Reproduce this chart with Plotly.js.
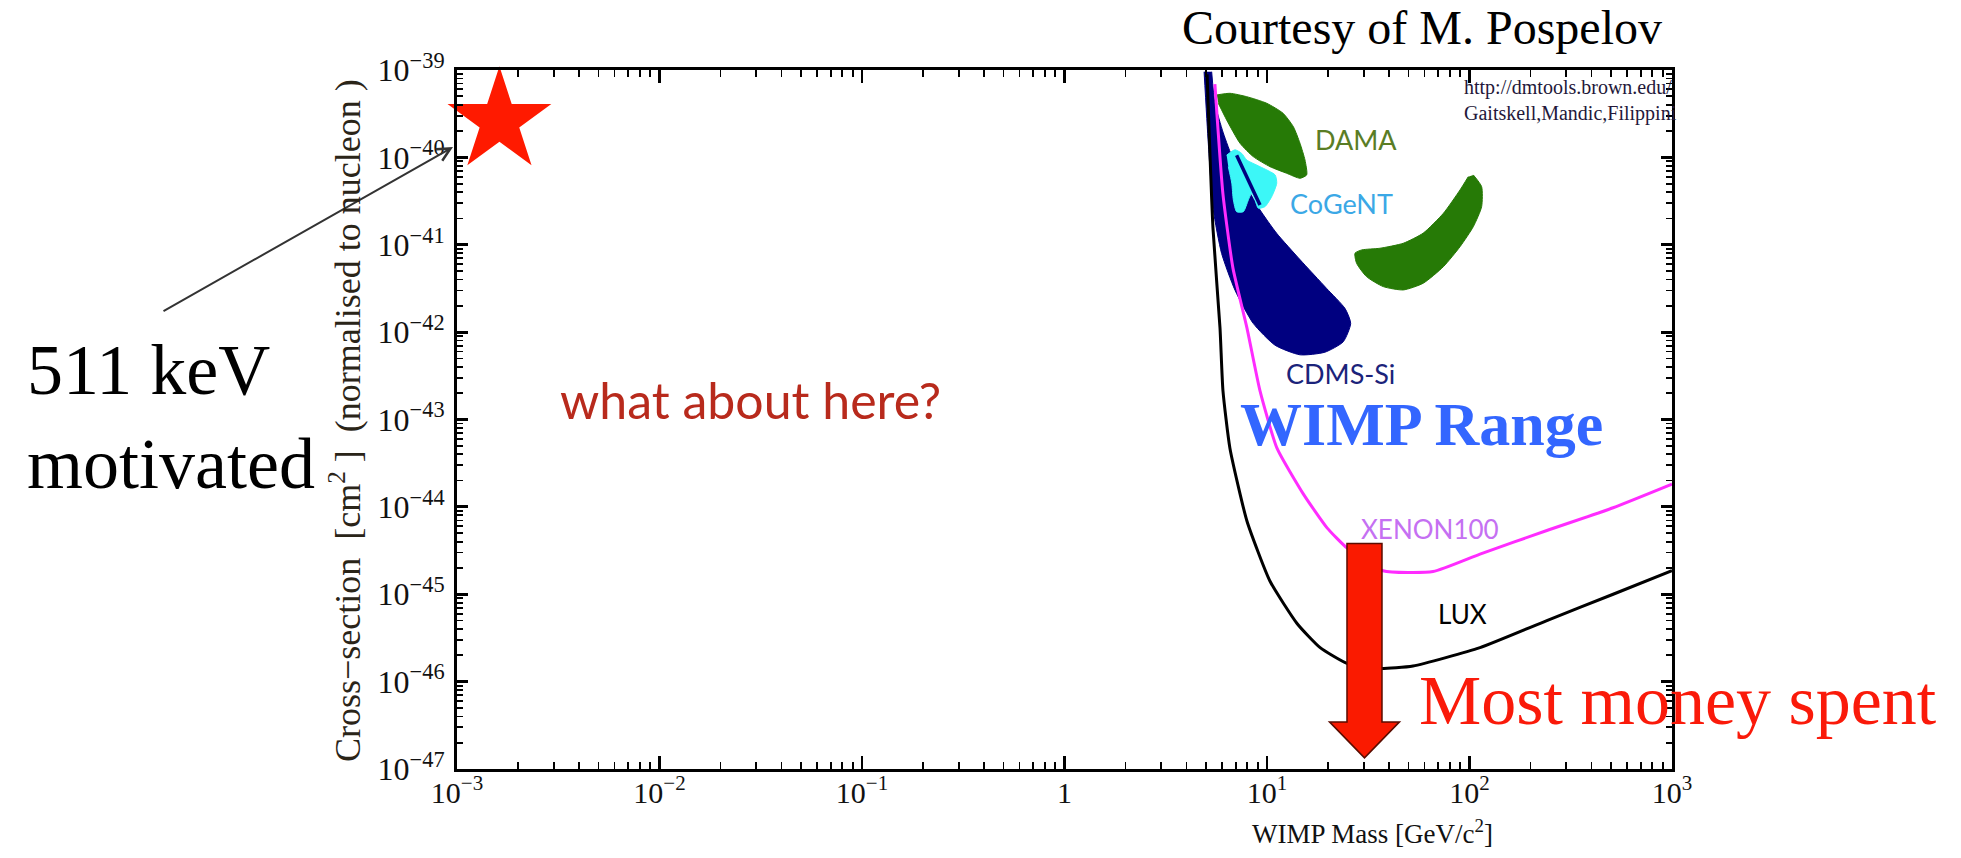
<!DOCTYPE html>
<html><head><meta charset="utf-8">
<script src="https://cdn.plot.ly/plotly-3.0.1.min.js"></script>
<style>html,body{margin:0;padding:0;background:#fff}#chart{width:1961px;height:858px}</style>
</head><body><div id="chart"></div>
<script>
// ---------------- data ----------------
const xTickVals = [1e-3, 1e-2, 1e-1, 1, 1e1, 1e2, 1e3];
const xTickText = ['10<sup>−3</sup>','10<sup>−2</sup>','10<sup>−1</sup>','1','10<sup>1</sup>','10<sup>2</sup>','10<sup>3</sup>'];
const yTickVals = [1e-39,1e-40,1e-41,1e-42,1e-43,1e-44,1e-45,1e-46,1e-47];
const yTickText = ['10<sup>−39</sup>','10<sup>−40</sup>','10<sup>−41</sup>','10<sup>−42</sup>','10<sup>−43</sup>','10<sup>−44</sup>','10<sup>−45</sup>','10<sup>−46</sup>','10<sup>−47</sup>'];

// LUX limit (black)
const luxMass  = [5.06, 5.41, 5.86, 6.06, 6.56, 7.96, 10.35, 14.1, 18.3, 24.8, 36.1, 52.6, 112.7, 241, 512, 1000];
const luxSigma = [8.9e-40, 1.55e-41, 1.12e-42, 2.14e-43, 4.7e-44, 6.9e-45, 1.41e-45, 4.6e-46, 2.45e-46, 1.62e-46, 1.41e-46, 1.51e-46, 2.45e-46, 5.0e-46, 1.0e-45, 1.86e-45];

// XENON100 limit (magenta)
const xenonMass  = [5.53, 6.06, 6.79, 7.96, 9.23, 11.2, 15.1, 19.8, 24.8, 37.4, 66.1, 112.7, 241, 512, 1000];
const xenonSigma = [6.9e-40, 3.8e-41, 5.4e-42, 1.12e-42, 2.14e-43, 4.7e-44, 1.41e-44, 5.75e-45, 3.39e-45, 1.86e-45, 1.82e-45, 2.88e-45, 5.37e-45, 9.77e-45, 1.82e-44];

// CDMS-Si region (navy)
const cdmsMass  = [4.89, 5.13, 5.43, 5.97, 6.95, 8.55, 10.96, 14.55, 19.32, 23.8, 25.9, 24.3, 19.7, 14.55, 11.17, 9.23, 7.94, 6.82, 6.08, 5.53, 5.33];
const cdmsSigma = [9.55e-40, 1.45e-40, 2.51e-41, 7.94e-42, 3.02e-42, 1.26e-42, 7.08e-43, 5.50e-43, 5.89e-43, 7.76e-43, 1.26e-42, 1.86e-42, 3.16e-42, 6.76e-42, 1.35e-41, 2.51e-41, 4.57e-41, 9.33e-41, 1.91e-40, 4.17e-40, 9.55e-40];

// DAMA regions (green)
const damaLowMass  = [5.65, 6.56, 7.94, 9.97, 12.0, 13.5, 14.55, 15.4, 15.7, 14.55, 12.5, 10.35, 8.55, 7.36, 6.32, 5.75];
const damaLowSigma = [5.18e-40, 5.41e-40, 4.95e-40, 4.16e-40, 3.20e-40, 2.24e-40, 1.45e-40, 9.33e-41, 6.30e-41, 5.77e-41, 6.58e-41, 7.83e-41, 1.02e-40, 1.45e-40, 2.68e-40, 4.16e-40];
const damaHighMass  = [104.4, 114.8, 114.8, 104.4, 89.8, 74.3, 59.1, 47.1, 37.5, 31.0, 27.7, 27.2, 29.4, 36.1, 47.1, 59.1, 74.3, 89.8, 98.6];
const damaHighSigma = [6.30e-41, 4.62e-41, 2.73e-41, 1.61e-41, 9.51e-42, 5.61e-42, 3.63e-42, 3.04e-42, 3.32e-42, 4.32e-42, 6.14e-42, 8.0e-42, 8.73e-42, 9.12e-42, 1.04e-41, 1.36e-41, 2.29e-41, 4.24e-41, 6.01e-41];

// CoGeNT region (cyan) and inner contour
const cogentMass  = [6.32, 6.95, 7.50, 7.94, 9.23, 10.96, 11.17, 10.55, 9.77, 9.06, 8.72, 8.40, 8.09, 7.64, 7.08, 6.82, 6.70, 6.44];
const cogentSigma = [1.06e-40, 1.22e-40, 1.11e-40, 9.33e-41, 7.83e-41, 6.30e-41, 5.06e-41, 3.55e-41, 2.73e-41, 2.62e-41, 3.26e-41, 3.88e-41, 3.26e-41, 2.39e-41, 2.39e-41, 3.26e-41, 5.06e-41, 7.83e-41];
const cogentLineMass  = [7.08, 9.23];
const cogentLineSigma = [1.06e-40, 2.85e-41];

// 511 keV motivated point (star)
const starMass  = [1.62e-3];
const starSigma = [2.61e-40];

// "Most money spent" arrow: mass and cross-section span
const arrowMass = 30.3;
const arrowTopSigma = 3.8e-45;
const arrowTipSigma = 1.34e-47;

// ---------------- helpers ----------------
const L = 457, R = 289, T = 70, B = 89, W = 1961, H = 858;
const PW = W - L - R, PH = H - T - B;
const px2x = px => (px - L) / PW;
const py2y = py => (H - B - py) / PH;
const xRange = [-3, 3], yRange = [-47, -39];
const m2px = m => L + (Math.log10(m) - xRange[0]) / (xRange[1] - xRange[0]) * PW;
const s2py = s => H - B - (Math.log10(s) - yRange[0]) / (yRange[1] - yRange[0]) * PH;

const SERIF = 'Liberation Serif, Times New Roman, serif';
const SANS = 'Lato, Open Sans, sans-serif';

function region(x, y, color) {
  return {x: x, y: y, type: 'scatter', mode: 'lines', fill: 'toself',
          fillcolor: color, line: {color: color, width: 1, shape: 'spline', smoothing: 0.6},
          hoverinfo: 'skip'};
}

const traces = [
  region(cdmsMass, cdmsSigma, '#000080'),
  region(damaLowMass, damaLowSigma, '#267a06'),
  region(damaHighMass, damaHighSigma, '#267a06'),
  region(cogentMass, cogentSigma, '#3cf7f7'),
  {x: cogentLineMass, y: cogentLineSigma, type: 'scatter', mode: 'lines',
   line: {color: '#000080', width: 3.5}, hoverinfo: 'skip'},
  {x: xenonMass, y: xenonSigma, type: 'scatter', mode: 'lines',
   line: {color: '#ff2cff', width: 3, shape: 'spline', smoothing: 0.5}, hoverinfo: 'skip'},
  {x: luxMass, y: luxSigma, type: 'scatter', mode: 'lines',
   line: {color: '#000000', width: 3, shape: 'spline', smoothing: 0.5}, hoverinfo: 'skip'},
  {x: starMass, y: starSigma, type: 'scatter', mode: 'markers', cliponaxis: false,
   marker: {symbol: 'star', size: 78, color: '#ff1a00', line: {width: 0}}, hoverinfo: 'skip'}
];

// arrow path (pixel geometry around the data-defined axis of the arrow)
const ax0 = m2px(arrowMass), ayTop = s2py(arrowTopSigma), ayTip = s2py(arrowTipSigma);
const shaftHalf = 17.5, headHalf = 35, headLen = 36;
const ayHead = ayTip - headLen;
const pts = [
  [ax0 - shaftHalf, ayTop], [ax0 + shaftHalf, ayTop], [ax0 + shaftHalf, ayHead],
  [ax0 + headHalf, ayHead], [ax0, ayTip], [ax0 - headHalf, ayHead], [ax0 - shaftHalf, ayHead]
];
const arrowPath = 'M' + pts.map(p => px2x(p[0]).toFixed(5) + ',' + py2y(p[1]).toFixed(5)).join(' L') + ' Z';

const axisCommon = {
  type: 'log', showgrid: false, zeroline: false, showline: true, linewidth: 3,
  linecolor: '#000', mirror: 'ticks', ticks: 'inside', tickcolor: '#000',
  tickmode: 'array'
};

function label(text, px, py, font, extra) {
  return Object.assign({text: text, xref: 'paper', yref: 'paper', x: px2x(px), y: py2y(py),
    showarrow: false, xanchor: 'center', yanchor: 'middle', font: font}, extra || {});
}

const layout = {
  width: W, height: H,
  margin: {l: L, r: R, t: T, b: B, pad: 0},
  paper_bgcolor: '#ffffff', plot_bgcolor: '#ffffff',
  showlegend: false,
  font: {family: SERIF, color: '#000'},
  xaxis: Object.assign({}, axisCommon, {
    range: xRange, tickvals: xTickVals, ticktext: xTickText,
    ticklen: 13, tickwidth: 2.5, tickfont: {family: SERIF, size: 30, color: '#111'},
    ticklabelstandoff: -5,
    minor: {ticks: 'inside', ticklen: 7, tickwidth: 1.8, tickcolor: '#000', dtick: 'D1', showgrid: false}
  }),
  yaxis: Object.assign({}, axisCommon, {
    range: yRange, tickvals: yTickVals, ticktext: yTickText,
    ticklen: 11, tickwidth: 3, tickfont: {family: SERIF, size: 32, color: '#111'},
    ticklabelstandoff: 3,
    minor: {ticks: 'inside', ticklen: 6, tickwidth: 1.8, tickcolor: '#000', dtick: 'D1', showgrid: false}
  }),
  shapes: [
    {type: 'path', xref: 'paper', yref: 'paper', path: arrowPath,
     fillcolor: '#fa1a00', line: {color: '#5a0c00', width: 1.5}, layer: 'above'}
  ],
  annotations: [
    label('Courtesy of M. Pospelov', 1422, 28, {family: SERIF, size: 48, color: '#000'}),
    label('http://dmtools.brown.edu/<br>Gaitskell,Mandic,Filippini', 1462, 74,
          {family: SERIF, size: 20, color: '#24183a'}, {align: 'left', xanchor: 'left', yanchor: 'top'}),
    label('DAMA', 1356, 139, {family: SANS, size: 27, color: '#5a7d25'}),
    label('CoGeNT', 1341, 204, {family: SANS, size: 27, color: '#3ba8e6'}),
    label('CDMS-Si', 1340, 373, {family: SANS, size: 27, color: '#1b237a'}),
    label('<b>WIMP Range</b>', 1421, 424, {family: SERIF, size: 62, color: '#3366ff'}),
    label('XENON100', 1430, 529, {family: SANS, size: 26, color: '#c570f2'}),
    label('LUX', 1462, 614, {family: SANS, size: 26, color: '#000'}),
    label('Most money spent', 1417, 700, {family: SERIF, size: 70, color: '#fa1a0a'}, {xanchor: 'left'}),
    label('what about here?', 558, 400, {family: SANS, size: 50, color: '#b82a1c'}, {xanchor: 'left'}),
    label('511 keV<br>motivated', 25, 328, {family: SERIF, size: 72, color: '#000'},
          {xanchor: 'left', yanchor: 'top', align: 'left'}),
    {text: '', xref: 'paper', yref: 'paper', x: px2x(453), y: py2y(147), showarrow: true,
     axref: 'pixel', ayref: 'pixel', ax: -291, ay: 165, arrowhead: 5, arrowsize: 1.3, arrowwidth: 2,
     arrowcolor: '#333'},
    label('WIMP Mass [GeV/c<sup>2</sup>]', 1372, 832, {family: SERIF, size: 27, color: '#111'}),
    label('Cross−section  [cm<sup>2</sup> ]  (normalised to nucleon )', 346, 421,
          {family: SERIF, size: 36, color: '#2a2418'}, {textangle: -90})
  ]
};

Plotly.newPlot('chart', traces, layout, {staticPlot: true, displayModeBar: false});
</script>
</body></html>
